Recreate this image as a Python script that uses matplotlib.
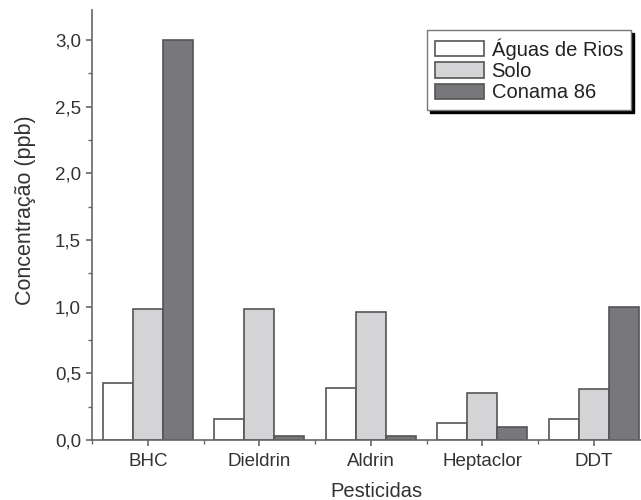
import matplotlib
matplotlib.use("Agg")
import matplotlib.pyplot as plt
import numpy as np
from matplotlib.ticker import FuncFormatter, MultipleLocator

plt.rcParams['font.family'] = ['Liberation Sans', 'DejaVu Sans']

categories = ["BHC", "Dieldrin", "Aldrin", "Heptaclor", "DDT"]
series_names = ["Águas de Rios", "Solo", "Conama 86"]
aguas = [0.43, 0.16, 0.39, 0.13, 0.16]
solo = [0.98, 0.98, 0.96, 0.35, 0.38]
conama = [3.0, 0.03, 0.03, 0.10, 1.0]
colors = ["#ffffff", "#d4d4d6", "#78787c"]

fig = plt.figure(figsize=(6.41, 5.0), dpi=100)
ax = fig.add_axes([92 / 641, 60 / 500, 557.5 / 641, 430 / 500])

x = np.arange(len(categories))
w = 0.27
for i, (vals, name, c) in enumerate(zip([aguas, solo, conama], series_names, colors)):
    ax.bar(x + (i - 1) * w, vals, w, color=c, edgecolor="#555555", linewidth=1.2, label=name)

ax.set_xlim(-0.5, 4.5)
ax.set_ylim(0, 3.225)
ax.set_xticks(x)
ax.set_xticklabels(categories)
ax.xaxis.set_minor_locator(MultipleLocator(1, offset=0.5))
ax.yaxis.set_major_locator(MultipleLocator(0.5))
ax.yaxis.set_minor_locator(MultipleLocator(0.25))
ax.yaxis.set_major_formatter(FuncFormatter(lambda v, p: f"{v:.1f}".replace('.', ',')))

for s in ["top", "right"]:
    ax.spines[s].set_visible(False)
for s in ["left", "bottom"]:
    ax.spines[s].set_color("#666666")
    ax.spines[s].set_linewidth(1.2)
ax.tick_params(which="both", direction="out", color="#666666", labelsize=13.5, labelcolor="#333333")
ax.tick_params(which="major", length=4, width=1.2)
ax.tick_params(which="minor", length=3, width=1.0)
ax.tick_params(axis="x", which="major", pad=5)
ax.tick_params(axis="y", which="major", pad=4)

ax.set_xlabel("Pesticidas", fontsize=14.5, color="#333333")
ax.set_ylabel("Concentração (ppb)", fontsize=15.5, color="#333333")
ax.xaxis.set_label_coords((376 - 92) / 557.5, -42 / 430)
ax.yaxis.set_label_coords((36 - 92) / 557.5, (440 - 210) / 430)

leg = ax.legend(loc="upper right", bbox_to_anchor=((631 - 92) / 557.5, (440 - 30) / 430),
                fontsize=14.5, frameon=True, fancybox=False, shadow={'color': 'black', 'alpha': 1.0},
                handlelength=2.4, handleheight=0.8, borderpad=0.4, labelspacing=0.12, handletextpad=0.4,
                borderaxespad=0)
leg.get_frame().set_edgecolor("#777777")
leg.get_frame().set_linewidth(1.0)
for t in leg.get_texts():
    t.set_color("#222222")

fig.savefig("out.png", dpi=100)
